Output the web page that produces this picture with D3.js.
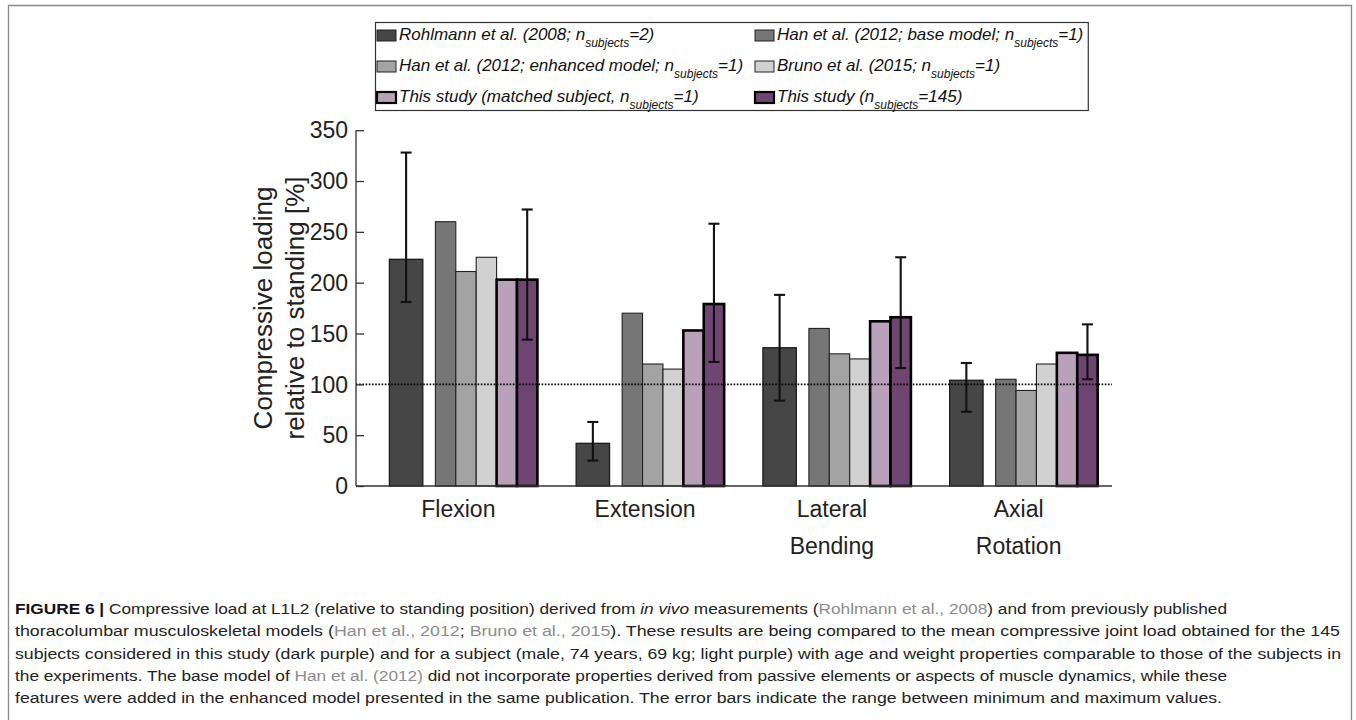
<!DOCTYPE html>
<html><head><meta charset="utf-8">
<script src="https://cdn.jsdelivr.net/npm/d3@7"></script>
<style>body{margin:0;background:#fff}svg{display:block}</style>
</head><body>
<svg id="chart" width="1356" height="720"></svg>
<script>
// ---------- data ----------
const categories = ["Flexion", "Extension", "Lateral Bending", "Axial Rotation"];
const yTicks = [0, 50, 100, 150, 200, 250, 300, 350];
const rohlmann    = [223, 42, 136, 104];
const rohlmannMin = [181, 25, 84, 73];
const rohlmannMax = [328, 63, 188, 121];
const hanBase     = [260, 170, 155, 105];
const hanEnhanced = [211, 120, 130, 94];
const bruno       = [225, 115, 125, 120];
const matched     = [203, 153, 162, 131];
const thisStudy   = [203, 179, 166, 129];
const thisStudyMin = [144, 122, 116, 105];
const thisStudyMax = [272, 258, 225, 159];
const referenceLine = 100;
const legendLabels = [
  ["Rohlmann et al. (2008; n", "subjects", "=2)"],
  ["Han et al. (2012; base model; n", "subjects", "=1)"],
  ["Han et al. (2012; enhanced model; n", "subjects", "=1)"],
  ["Bruno et al. (2015; n", "subjects", "=1)"],
  ["This study (matched subject, n", "subjects", "=1)"],
  ["This study (n", "subjects", "=145)"]
];

// ---------- styles ----------
const styles = [
  {fill:"#464646", stroke:"#1c1c1c", sw:1.3},
  {fill:"#767676", stroke:"#222",   sw:1.1},
  {fill:"#a3a3a3", stroke:"#222",   sw:1.1},
  {fill:"#d1d1d1", stroke:"#222",   sw:1.1},
  {fill:"#b9a1b9", stroke:"#000",   sw:2.6},
  {fill:"#6f4571", stroke:"#000",   sw:2.6}
];
const seriesVals = [rohlmann, hanBase, hanEnhanced, bruno, matched, thisStudy];

const svg = d3.select("#chart");
const FONT = "'Liberation Sans', Arial, Helvetica, sans-serif";

// frame
svg.append("path").attr("d","M8.5,730 V5.5 H1351.5 V730")
  .attr("fill","none").attr("stroke","#8a8a8a").attr("stroke-width",1.3);

// ---------- scales ----------
const y = d3.scaleLinear().domain([0, 350]).range([486, 130.2]);
const x = d3.scaleBand().domain(categories).range([365, 1112]).padding(0);
const step = x.bandwidth();
const rohW = 33.4, rohOff = 24.4, subOff = 70.4, subW = 20.4;
function barX(si, cat){ return si === 0 ? x(cat) + rohOff : x(cat) + subOff + (si-1)*subW; }
function barW(si){ return si === 0 ? rohW : subW; }

const g = svg.append("g");

seriesVals.forEach((vals, si) => {
  g.selectAll(null).data(categories).enter().append("rect")
    .attr("x", c => barX(si, c))
    .attr("width", barW(si))
    .attr("y", (c,i) => y(vals[i]))
    .attr("height", (c,i) => y(0) - y(vals[i]))
    .attr("fill", styles[si].fill)
    .attr("stroke", styles[si].stroke)
    .attr("stroke-width", styles[si].sw);
});

g.append("line")
  .attr("x1", 356).attr("x2", 1112)
  .attr("y1", y(referenceLine)).attr("y2", y(referenceLine))
  .attr("stroke", "#000").attr("stroke-width", 1.7)
  .attr("stroke-dasharray", "1.6,1.6");

function errBars(si, mins, maxs){
  const cx = (c) => barX(si, c) + barW(si)/2;
  const eg = g.append("g").attr("stroke","#111").attr("stroke-width",2.1).attr("fill","none");
  categories.forEach((c,i) => {
    eg.append("line").attr("x1",cx(c)).attr("x2",cx(c)).attr("y1",y(mins[i])).attr("y2",y(maxs[i]));
    eg.append("line").attr("x1",cx(c)-5.5).attr("x2",cx(c)+5.5).attr("y1",y(mins[i])).attr("y2",y(mins[i]));
    eg.append("line").attr("x1",cx(c)-5.5).attr("x2",cx(c)+5.5).attr("y1",y(maxs[i])).attr("y2",y(maxs[i]));
  });
}
errBars(0, rohlmannMin, rohlmannMax);
errBars(5, thisStudyMin, thisStudyMax);

// y axis (ticks inward)
const yAxis = d3.axisRight(y).tickValues(yTicks).tickSize(8).tickFormat("");
const ya = svg.append("g").attr("transform","translate(356,0)").call(yAxis);
ya.select(".domain").attr("d", `M0,${y(350)}V${y(0)}`).attr("stroke","#333").attr("stroke-width",1.3);
ya.selectAll(".tick line").attr("stroke","#333").attr("stroke-width",1.3);
svg.append("g").selectAll("text").data(yTicks).enter().append("text")
  .attr("x", 348).attr("y", d => y(d)).attr("dy","0.36em")
  .attr("text-anchor","end").attr("font-family",FONT).attr("font-size",23).attr("fill","#222")
  .text(d => d);

// x axis
const xAxis = d3.axisBottom(x).tickSize(0).tickFormat("");
const xa = svg.append("g").attr("transform",`translate(0,${y(0)})`).call(xAxis);
xa.select(".domain").attr("d","M356,0H1112").attr("stroke","#333").attr("stroke-width",1.3);
categories.forEach(c => {
  const lines = c.split(" ");
  const t = svg.append("text").attr("font-family",FONT).attr("font-size",23).attr("fill","#222")
    .attr("text-anchor","middle");
  lines.forEach((ln, k) => {
    t.append("tspan").attr("x", x(c) + step/2).attr("y", 517 + k*37).text(ln);
  });
});

// y label
const yl = svg.append("text").attr("font-family",FONT).attr("font-size",26).attr("fill","#222")
  .attr("text-anchor","middle").attr("transform","translate(0,308) rotate(-90)");
yl.append("tspan").attr("x",0).attr("y",272).text("Compressive loading");
yl.append("tspan").attr("x",0).attr("y",304).text("relative to standing [%]");

// legend
const lg = svg.append("g");
const legBox = lg.append("rect").attr("x",375.5).attr("y",22.5).attr("height",88)
  .attr("fill","#fff").attr("stroke","#333").attr("stroke-width",1.2);
const colX = [377, 755], rowY = [40, 71, 102];
let maxEnd = 0;
legendLabels.forEach((lab, i) => {
  const col = i % 2, row = Math.floor(i/2);
  const sx = colX[col], by = rowY[row];
  lg.append("rect").attr("x", sx).attr("y", by-10).attr("width",19).attr("height",11)
    .attr("fill", styles[i].fill).attr("stroke", i>=4 ? "#000" : "#222")
    .attr("stroke-width", i>=4 ? 2.2 : 1);
  const t = lg.append("text").attr("x", sx+22).attr("y", by)
    .attr("font-family",FONT).attr("font-style","italic").attr("font-size",17).attr("fill","#111");
  t.append("tspan").text(lab[0]);
  t.append("tspan").attr("font-size",12).attr("dy",7).text(lab[1]);
  t.append("tspan").attr("dy",-7).text(lab[2]);
  const bb = t.node().getBBox();
  maxEnd = Math.max(maxEnd, bb.x + bb.width);
});
legBox.attr("width", maxEnd + 5 - 375.5);

// caption
const capLines = [
  {end:1227, parts:[["FIGURE 6 | ","b"],["Compressive load at L1L2 (relative to standing position) derived from ",""],["in vivo","i"],[" measurements (",""],["Rohlmann et al., 2008","g"],[") and from previously published",""]]},
  {end:1340, parts:[["thoracolumbar musculoskeletal models (",""],["Han et al., 2012","g"],["; ",""],["Bruno et al., 2015","g"],["). These results are being compared to the mean compressive joint load obtained for the 145",""]]},
  {end:1341, parts:[["subjects considered in this study (dark purple) and for a subject (male, 74 years, 69 kg; light purple) with age and weight properties comparable to those of the subjects in",""]]},
  {end:1227, parts:[["the experiments. The base model of ",""],["Han et al. (2012)","g"],[" did not incorporate properties derived from passive elements or aspects of muscle dynamics, while these",""]]},
  {end:1222, parts:[["features were added in the enhanced model presented in the same publication. The error bars indicate the range between minimum and maximum values.",""]]}
];
capLines.forEach((ln, k) => {
  const t = svg.append("text").attr("x",15).attr("y", 614 + k*22.3)
    .attr("font-family",FONT).attr("font-size",15.5).attr("fill","#222")
    .attr("textLength", ln.end - 15).attr("lengthAdjust","spacingAndGlyphs");
  ln.parts.forEach(p => {
    const s = t.append("tspan").text(p[0]);
    if (p[1]==="b") s.attr("font-weight","bold").attr("fill","#111");
    if (p[1]==="i") s.attr("font-style","italic");
    if (p[1]==="g") s.attr("fill","#8c8c8c");
  });
});
</script>
</body></html>
